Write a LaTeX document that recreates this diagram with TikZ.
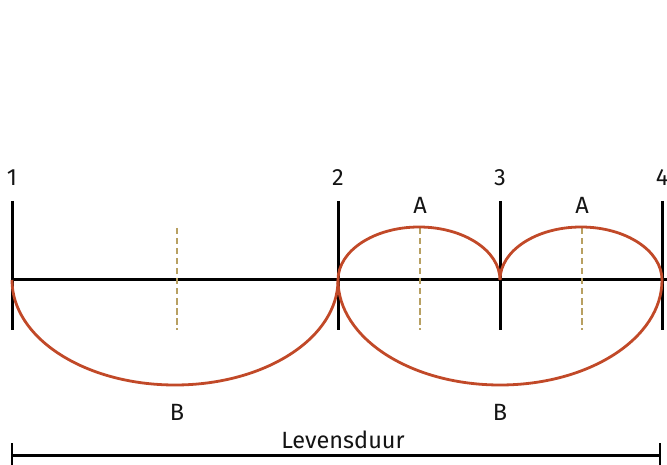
\documentclass[tikz,border=0pt]{standalone}
\usepackage{fontspec}
\setmainfont{Fira Sans}
\definecolor{curvecol}{RGB}{193,73,40}
\definecolor{midcol}{RGB}{184,160,98}
\definecolor{inkcol}{RGB}{20,20,20}
\begin{document}
\begin{tikzpicture}[x=1pt,y=-1pt,
  axisline/.style={line width=3pt,draw=black},
  curveline/.style={line width=2.8pt,draw=curvecol},
  midline/.style={line width=2.8pt,draw=midcol,dash pattern=on 6.5pt off 3.5pt},
  lab/.style={font=\fontsize{23.5}{23.5}\selectfont,text=inkcol,inner sep=0pt,anchor=base}]
\useasboundingbox (0,0) rectangle (667,465);
% axis points
\coordinate (p1) at (12,280);
\coordinate (p2) at (338,280);
\coordinate (p3) at (500,280);
\coordinate (p4) at (662,280);
\coordinate (pend) at (667,280);
% tick ends
\foreach \i/\x in {1/12,2/338,3/500,4/662}{
  \coordinate (t\i) at (\x,201);
  \coordinate (b\i) at (\x,330);
}
% midlines
\coordinate (m1t) at (177,228); \coordinate (m1b) at (177,330);
\coordinate (m2t) at (420,228); \coordinate (m2b) at (420,330);
\coordinate (m3t) at (582,228); \coordinate (m3b) at (582,330);
% labels
\node[lab] (n1) at (12,186) {1};
\node[lab] (n2) at (338,186) {2};
\node[lab] (n3) at (500,186) {3};
\node[lab] (n4) at (662,186) {4};
\node[lab] (a1) at (420,214) {A};
\node[lab] (a2) at (582,214) {A};
\node[lab] (bb1) at (177,420) {B};
\node[lab] (bb2) at (500,420) {B};
\node[lab] (life) at (343,448) {Levensduur};
% axis
\draw[axisline] (p1) -- (pend);
\foreach \i in {1,2,3,4}{ \draw[axisline] (t\i) -- (b\i); }
% midlines
\draw[midline] (m1t) -- (m1b);
\draw[midline] (m2t) -- (m2b);
\draw[midline] (m3t) -- (m3b);
% curves
\draw[curveline] (p1) arc[start angle=180,end angle=0,x radius=163,y radius=105];
\draw[curveline] (p2) arc[start angle=180,end angle=0,x radius=162,y radius=105];
\draw[curveline] (p2) arc[start angle=180,end angle=360,x radius=81,y radius=53];
\draw[curveline] (p3) arc[start angle=180,end angle=360,x radius=81,y radius=53];
% lifetime bar
\coordinate (l1) at (12,455); \coordinate (l2) at (660,455);
\coordinate (l1t) at (12,443); \coordinate (l1b) at (12,466);
\coordinate (l2t) at (660,443); \coordinate (l2b) at (660,466);
\draw[line width=3pt] (l1) -- (l2);
\draw[line width=2.4pt] (l1t) -- (l1b);
\draw[line width=2.4pt] (l2t) -- (l2b);
\end{tikzpicture}
\end{document}
